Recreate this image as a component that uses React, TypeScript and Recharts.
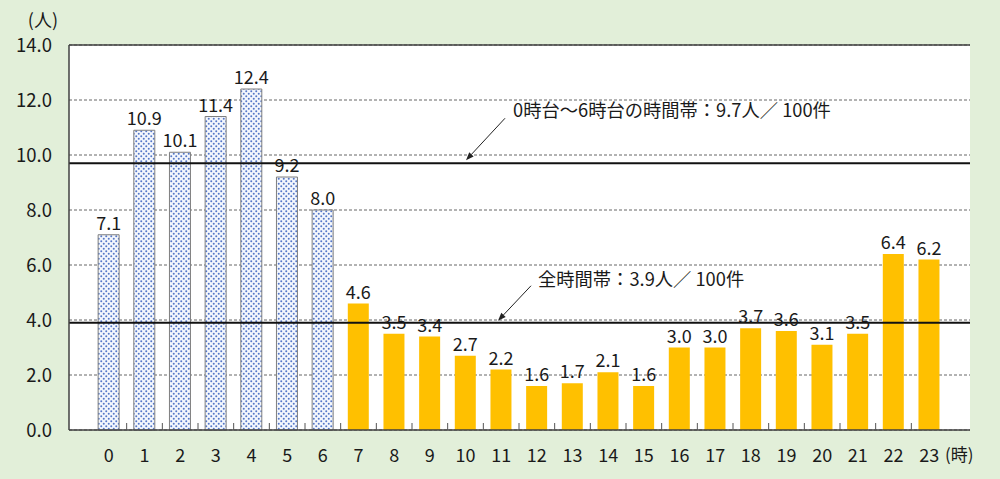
import React from 'react';
import { BarChart, Bar, XAxis, YAxis, CartesianGrid, ReferenceLine, LabelList, Cell } from 'recharts';

const hours = ['0', '1', '2', '3', '4', '5', '6', '7', '8', '9', '10', '11', '12', '13', '14', '15', '16', '17', '18', '19', '20', '21', '22', '23'];
const rates = [7.1, 10.9, 10.1, 11.4, 12.4, 9.2, 8.0, 4.6, 3.5, 3.4, 2.7, 2.2, 1.6, 1.7, 2.1, 1.6, 3.0, 3.0, 3.7, 3.6, 3.1, 3.5, 6.4, 6.2];
const nightAvg = 9.7;
const allAvg = 3.9;
const yTicks = [0, 2, 4, 6, 8, 10, 12, 14];
const nightLabel = '0時台～6時台の時間帯：9.7人／ 100件';
const allLabel = '全時間帯：3.9人／ 100件';
const yUnit = '(人)';
const xUnit = '(時)';

const data = hours.map((h, i) => ({ hour: h, rate: rates[i] }));

const W = 1000;
const H = 479;
const MARGIN = { top: 45, right: 30, left: 0, bottom: 0 };
const Y_W = 69;
const PAD_L = 22;
const PAD_R = 23;
const PLOT_W = W - MARGIN.right - Y_W;
const BW = (PLOT_W - PAD_L - PAD_R) / hours.length;
const FONT = '"Noto Sans CJK JP", "Noto Sans", sans-serif';
const ORANGE = '#FFC000';
const BG = '#E2EFD9';

const XTick = (props: any) => {
  const { x, y, payload, index } = props;
  const last = index === hours.length - 1;
  return (
    <g>
      <text x={x} y={y + 32} textAnchor="middle" fontSize={18} fill="#1a1a1a" fontFamily={FONT}>
        {payload.value}
      </text>
      {!last && <line x1={x + BW / 2} x2={x + BW / 2} y1={y} y2={y - 7} stroke="#555" strokeWidth={1} />}
      {last && (
        <text x={x + 30} y={y + 31} textAnchor="middle" fontSize={17} fill="#1a1a1a" fontFamily={FONT}>
          {xUnit}
        </text>
      )}
    </g>
  );
};

const makeAnno = (text: string, tip: [number, number], tail: [number, number], tpos: [number, number]) => (p: any) => {
  const vb = p.viewBox || {};
  const x0 = vb.x;
  const y0 = vb.y;
  const tx = x0 + tip[0];
  const ty = y0 + tip[1];
  const sx = x0 + tail[0];
  const sy = y0 + tail[1];
  const ang = Math.atan2(ty - sy, tx - sx);
  const L = 8;
  const Wd = 3;
  const bx = tx - L * Math.cos(ang);
  const by = ty - L * Math.sin(ang);
  const px = -Math.sin(ang) * Wd;
  const py = Math.cos(ang) * Wd;
  return (
    <g>
      <line x1={sx} y1={sy} x2={bx} y2={by} stroke="#222" strokeWidth={1} />
      <polygon points={`${tx},${ty} ${bx + px},${by + py} ${bx - px},${by - py}`} fill="#222" />
      <text x={x0 + tpos[0]} y={y0 + tpos[1]} fontSize={18.3} fill="#1a1a1a" fontFamily={FONT}>
        {text}
      </text>
    </g>
  );
};

const YUnitLabel = (p: any) => {
  const vb = p.viewBox || {};
  return (
    <text x={vb.x + vb.width - 11} y={vb.y - 18} textAnchor="end" fontSize={18} fill="#1a1a1a" fontFamily={FONT}>
      {yUnit}
    </text>
  );
};

export default function App() {
  return (
    <div style={{ position: 'absolute', left: 0, top: 0, width: W, height: H, background: BG }}>
      <BarChart width={W} height={H} data={data} margin={MARGIN} barCategoryGap="20%">
        <defs>
          <pattern id="dots" width="5" height="5" patternUnits="userSpaceOnUse">
            <rect width="5" height="5" fill="#F4F7FD" />
            <circle cx="1.25" cy="1.25" r="1" fill="#5577C8" />
            <circle cx="3.75" cy="3.75" r="1" fill="#5577C8" />
          </pattern>
        </defs>
        <CartesianGrid
          horizontal
          vertical={false}
          stroke="#666"
          strokeDasharray="3 2"
          fill="#ffffff"
          fillOpacity={1}
        />
        <XAxis
          dataKey="hour"
          padding={{ left: PAD_L, right: PAD_R }}
          tickLine={false}
          tickSize={0}
          tickMargin={0}
          height={49}
          interval={0}
          axisLine={{ stroke: '#404040', strokeWidth: 1.5 }}
          tick={<XTick />}
        />
        <YAxis
          width={Y_W}
          domain={[0, 14]}
          ticks={yTicks}
          tickFormatter={(v: number) => v.toFixed(1)}
          tickLine={false}
          tickMargin={11}
          axisLine={{ stroke: '#404040', strokeWidth: 1.5 }}
          tick={{ fontSize: 18.5, fill: '#1a1a1a', fontFamily: FONT }}
          label={<YUnitLabel />}
        />
        <YAxis
          yAxisId="r"
          orientation="right"
          width={0}
          domain={[0, 14]}
          ticks={yTicks}
          tick={false}
          tickLine={false}
          axisLine={{ stroke: '#707070', strokeWidth: 1.5 }}
        />
        <ReferenceLine y={14} stroke="#404040" strokeWidth={1.5} />
        <Bar dataKey="rate" isAnimationActive={false}>
          {data.map((d, i) => (
            <Cell
              key={d.hour}
              fill={i <= 6 ? 'url(#dots)' : ORANGE}
              stroke={i <= 6 ? '#7F7F7F' : 'none'}
              strokeWidth={i <= 6 ? 1 : 0}
            />
          ))}
          <LabelList
            dataKey="rate"
            position="top"
            offset={5}
            formatter={(v: any) => Number(v).toFixed(1)}
            style={{ fontSize: 18, fill: '#1a1a1a', fontFamily: FONT }}
          />
        </Bar>
        <ReferenceLine
          y={nightAvg}
          stroke="#111"
          strokeWidth={2}
          label={makeAnno(nightLabel, [397, -3], [436, -45], [444, -46])}
        />
        <ReferenceLine
          y={allAvg}
          stroke="#111"
          strokeWidth={2}
          label={makeAnno(allLabel, [429, -2], [462, -37], [469, -37])}
        />
      </BarChart>
    </div>
  );
}
